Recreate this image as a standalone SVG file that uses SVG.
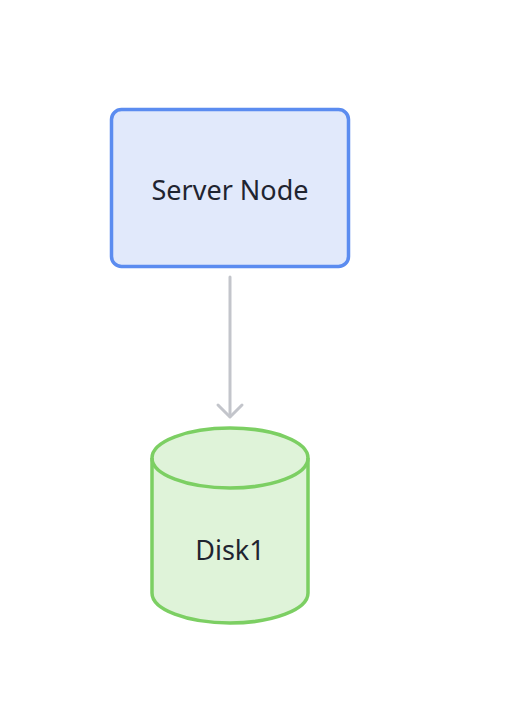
<svg xmlns="http://www.w3.org/2000/svg" width="512" height="722" viewBox="0 0 512 722">
<style>
.lbl{font-family:"Noto Sans","Open Sans",sans-serif;font-size:27px;fill:#1f2430;text-anchor:middle}
.edge{stroke:#c3c5cb;stroke-width:3;fill:none;stroke-linecap:round;stroke-linejoin:round}
</style>
<rect width="512" height="722" fill="#ffffff"/>
<g id="server">
<rect x="111.5" y="109.5" width="237" height="157" rx="10" fill="#e1e9fb" stroke="#5b8cf0" stroke-width="3.5"/>
<text class="lbl" x="230" y="200">Server Node</text>
</g>
<g id="connectors">
<path class="edge" d="M230 277 V416"/>
<path class="edge" d="M218 405 L230 417 L242 405"/>
</g>
<g id="disk1">
<path d="M152 458 V593 A78 30 0 0 0 308 593 V458 A78 30 0 0 0 152 458 Z" fill="#dff3d9" stroke="#7ccf63" stroke-width="3.5"/>
<path d="M152 458 A78 30 0 0 0 308 458" fill="none" stroke="#7ccf63" stroke-width="3.5"/>
<text class="lbl" x="230" y="560">Disk1</text>
</g>
</svg>
